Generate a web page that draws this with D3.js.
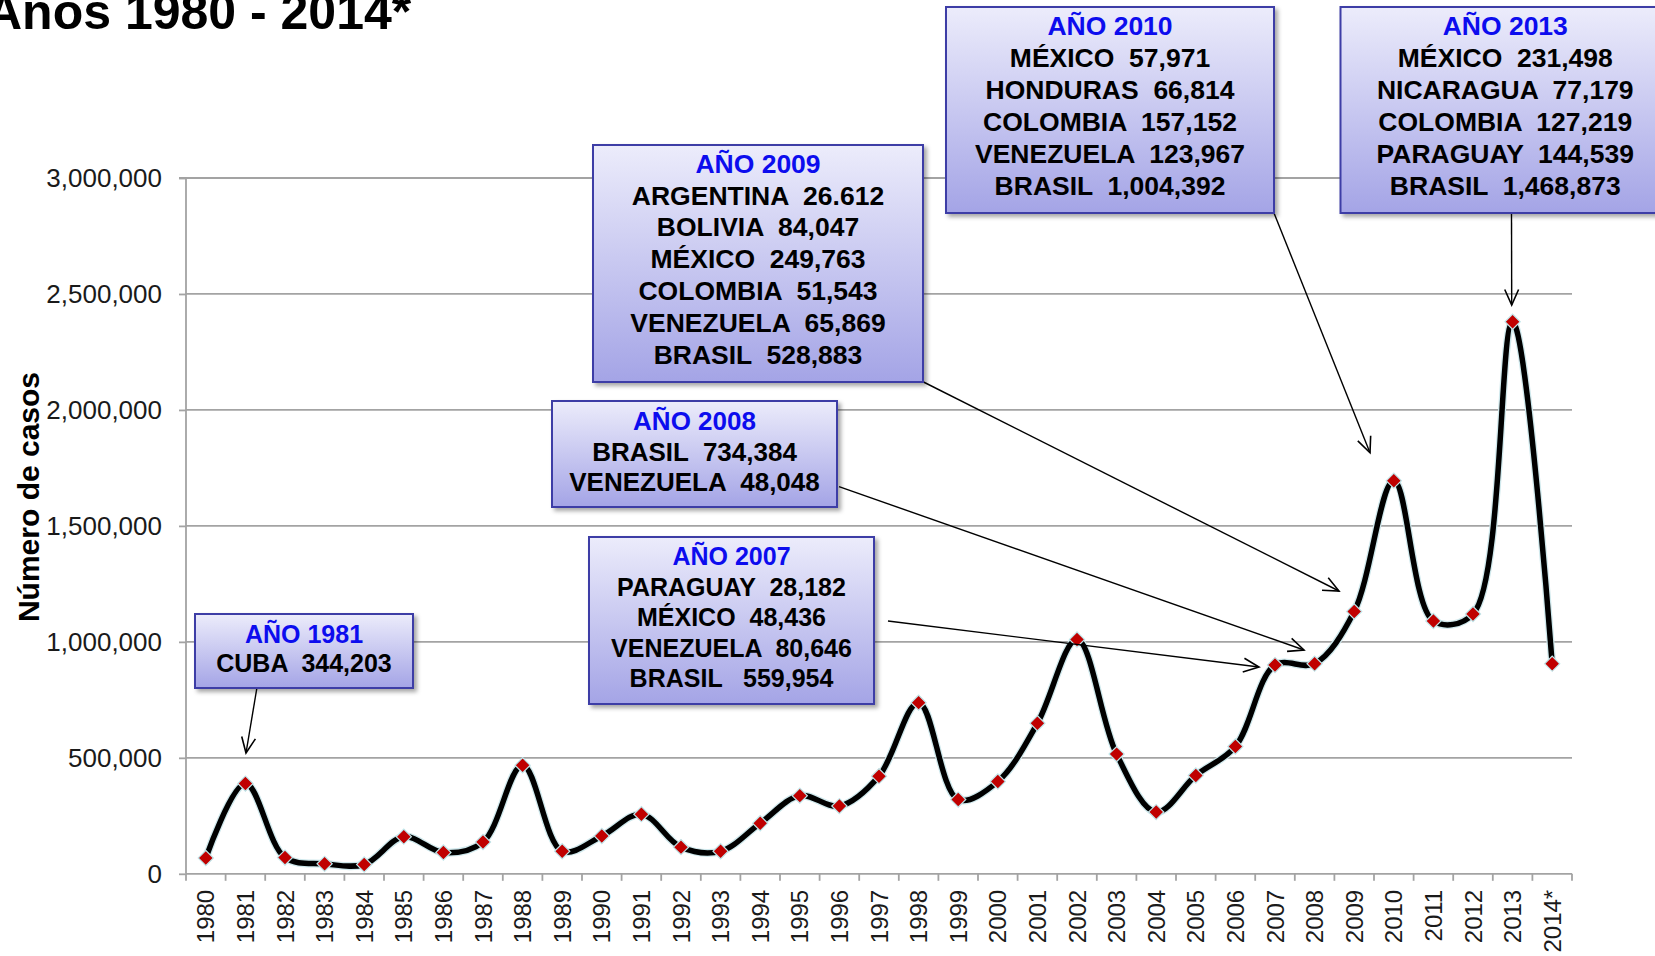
<!DOCTYPE html>
<html>
<head>
<meta charset="utf-8">
<script src="https://cdn.jsdelivr.net/npm/d3@7"></script>
<style>
html,body{margin:0;padding:0;background:#fff;overflow:hidden;}
svg{display:block;font-family:"Liberation Sans",Arial,sans-serif;}
</style>
</head>
<body>
<svg id="chart" width="1655" height="956"></svg>
<script>
// ---------- DATA ----------
const categories = ["1980","1981","1982","1983","1984","1985","1986","1987","1988","1989",
  "1990","1991","1992","1993","1994","1995","1996","1997","1998","1999",
  "2000","2001","2002","2003","2004","2005","2006","2007","2008","2009",
  "2010","2011","2012","2013","2014*"];
const casos = [68000,389000,70000,43000,40000,160000,92000,137000,468000,97000,
  163000,257000,115000,97000,218000,337000,292000,421000,738000,320000,
  398000,649000,1010000,516000,266000,424000,549000,900000,906000,1131000,
  1695000,1090000,1120000,2380000,906000];
const yTicks = [0,500000,1000000,1500000,2000000,2500000,3000000];
const titleText = "Años 1980 - 2014*";
const yTitle = "Número de casos";
const annTitles = ["AÑO 1981","AÑO 2007","AÑO 2008","AÑO 2009","AÑO 2010","AÑO 2013"];
const annLines = [
  ["CUBA  344,203"],
  ["PARAGUAY  28,182","MÉXICO  48,436","VENEZUELA  80,646","BRASIL   559,954"],
  ["BRASIL  734,384","VENEZUELA  48,048"],
  ["ARGENTINA  26.612","BOLIVIA  84,047","MÉXICO  249,763","COLOMBIA  51,543","VENEZUELA  65,869","BRASIL  528,883"],
  ["MÉXICO  57,971","HONDURAS  66,814","COLOMBIA  157,152","VENEZUELA  123,967","BRASIL  1,004,392"],
  ["MÉXICO  231,498","NICARAGUA  77,179","COLOMBIA  127,219","PARAGUAY  144,539","BRASIL  1,468,873"]
];

// ---------- LAYOUT ----------
const plot = {left:186, right:1572, top:178, bottom:873.8};
// box: x0,y0,x1,y1 ; fs font size ; b0 first baseline ; lh line height ; arrow: x0,y0,x1,y1
const annLayout = [
  {box:[195,614,413,688], fs:25,   b0:643,   lh:29,   arrow:[256.7,689,246,753]},
  {box:[589,537,874,704], fs:25,   b0:565,   lh:30.6, arrow:[888,621,1259,667]},
  {box:[552,401,837,507], fs:26,   b0:430,   lh:30.6, arrow:[839,486.6,1304,650]},
  {box:[593,145,923,382], fs:26.5, b0:172.7, lh:31.8, arrow:[923.5,382,1339,591]},
  {box:[946,7,1274,213],  fs:26.5, b0:35,    lh:32,   arrow:[1274,213,1370,452.7]},
  {box:[1340.5,7,1670,213], fs:26.5, b0:35,  lh:32,   arrow:[1511.5,213,1511.7,305]}
];
const gridColor = "#a3a3a3";

const svg = d3.select("#chart");
const defs = svg.append("defs");
const grad = defs.append("linearGradient").attr("id","boxGrad").attr("x1",0).attr("y1",0).attr("x2",0).attr("y2",1);
grad.append("stop").attr("offset","0%").attr("stop-color","#ececfb");
grad.append("stop").attr("offset","100%").attr("stop-color","#a4a4e6");
const filt = defs.append("filter").attr("id","shadow").attr("x","-10%").attr("y","-10%").attr("width","130%").attr("height","140%");
filt.append("feDropShadow").attr("dx",3).attr("dy",3).attr("stdDeviation",2).attr("flood-color","#000").attr("flood-opacity",0.35);

const x = d3.scaleBand().domain(categories).range([plot.left, plot.right]).padding(0);
const y = d3.scaleLinear().domain([0,3000000]).range([plot.bottom, plot.top]);

// gridlines
svg.append("g").selectAll("line").data(yTicks.filter(d=>d>0)).join("line")
  .attr("x1",plot.left).attr("x2",plot.right)
  .attr("y1",d=>y(d)).attr("y2",d=>y(d))
  .attr("stroke",gridColor).attr("stroke-width",1.8);

// y axis
const yAxis = d3.axisLeft(y).tickValues(yTicks).tickFormat(d3.format(",")).tickSize(7).tickPadding(17);
const gy = svg.append("g").attr("transform",`translate(${plot.left},0)`).call(yAxis);
gy.select(".domain").attr("stroke",gridColor).attr("stroke-width",1.8).attr("d",`M-7,${plot.top}H0V${plot.bottom}`);
gy.selectAll(".tick line").attr("stroke",gridColor).attr("stroke-width",1.8);
gy.selectAll(".tick text").attr("font-size",26).attr("fill","#1a1a1a").attr("font-family","'Liberation Sans',Arial,sans-serif");

// x axis
const gx = svg.append("g");
gx.append("line").attr("x1",plot.left).attr("x2",plot.right).attr("y1",plot.bottom).attr("y2",plot.bottom)
  .attr("stroke",gridColor).attr("stroke-width",1.8);
const bounds = categories.map(c=>x(c)).concat([x(categories[categories.length-1])+x.bandwidth()]);
gx.selectAll("line.tk").data(bounds).join("line").attr("class","tk")
  .attr("x1",d=>d).attr("x2",d=>d).attr("y1",plot.bottom).attr("y2",plot.bottom+7)
  .attr("stroke",gridColor).attr("stroke-width",1.8);
gx.selectAll("text").data(categories).join("text")
  .attr("transform",d=>`translate(${x(d)+x.bandwidth()/2},${plot.bottom+16}) rotate(-90)`)
  .attr("text-anchor","end").attr("dy","0.36em")
  .attr("font-size",24).attr("fill","#1a1a1a").text(d=>d);

// line
const pts = categories.map((c,i)=>({c, v:casos[i]}));
const lineGen = d3.line().x(d=>x(d.c)+x.bandwidth()/2).y(d=>y(d.v)).curve(d3.curveCatmullRom.alpha(0.5));
svg.append("path").datum(pts).attr("d",lineGen).attr("fill","none").attr("stroke","#cfe8ec").attr("stroke-width",8);
svg.append("path").datum(pts).attr("d",lineGen).attr("fill","none").attr("stroke","#000").attr("stroke-width",5.5);

// markers
const sym = d3.symbol().type(d3.symbolSquare).size(115);
svg.append("g").selectAll("path").data(pts).join("path")
  .attr("d",sym)
  .attr("transform",d=>`translate(${x(d.c)+x.bandwidth()/2},${y(d.v)}) rotate(45)`)
  .attr("fill","#c00000").attr("stroke","#bfe6ea").attr("stroke-width",1.2);

// title
svg.append("text").attr("x",-14).attr("y",29).attr("font-size",50).attr("font-weight","bold")
  .attr("fill","#000").text(titleText);

// y title
svg.append("text").attr("transform","translate(39,497) rotate(-90)").attr("text-anchor","middle")
  .attr("font-size",30).attr("font-weight","bold").attr("fill","#000").text(yTitle);

// annotations
const arrowHead = (x0,y0,x1,y1,len,ang)=>{
  const a = Math.atan2(y1-y0,x1-x0);
  const p1 = [x1 - len*Math.cos(a-ang), y1 - len*Math.sin(a-ang)];
  const p2 = [x1 - len*Math.cos(a+ang), y1 - len*Math.sin(a+ang)];
  return `M${p1[0]},${p1[1]}L${x1},${y1}L${p2[0]},${p2[1]}`;
};
const ag = svg.append("g");
annLayout.forEach((L,i)=>{
  const [ax0,ay0,ax1,ay1] = L.arrow;
  ag.append("line").attr("x1",ax0).attr("y1",ay0).attr("x2",ax1).attr("y2",ay1)
    .attr("stroke","#000").attr("stroke-width",1.4);
  ag.append("path").attr("d",arrowHead(ax0,ay0,ax1,ay1,17,0.42))
    .attr("fill","none").attr("stroke","#000").attr("stroke-width",1.6);
});
const bg = svg.append("g");
annLayout.forEach((L,i)=>{
  const [bx0,by0,bx1,by1] = L.box;
  const g = bg.append("g");
  g.append("rect").attr("x",bx0).attr("y",by0).attr("width",bx1-bx0).attr("height",by1-by0)
    .attr("fill","url(#boxGrad)").attr("stroke","#3d3da6").attr("stroke-width",2)
    .attr("filter","url(#shadow)");
  const cx = (bx0+bx1)/2;
  g.append("text").attr("x",cx).attr("y",L.b0).attr("text-anchor","middle")
    .attr("font-size",L.fs).attr("font-weight","bold").attr("fill","#0c0cee").text(annTitles[i]);
  annLines[i].forEach((t,j)=>{
    g.append("text").attr("x",cx).attr("y",L.b0+(j+1)*L.lh).attr("text-anchor","middle")
      .attr("font-size",L.fs).attr("font-weight","bold").attr("fill","#000")
      .style("white-space","pre").text(t);
  });
});
</script>
</body>
</html>
